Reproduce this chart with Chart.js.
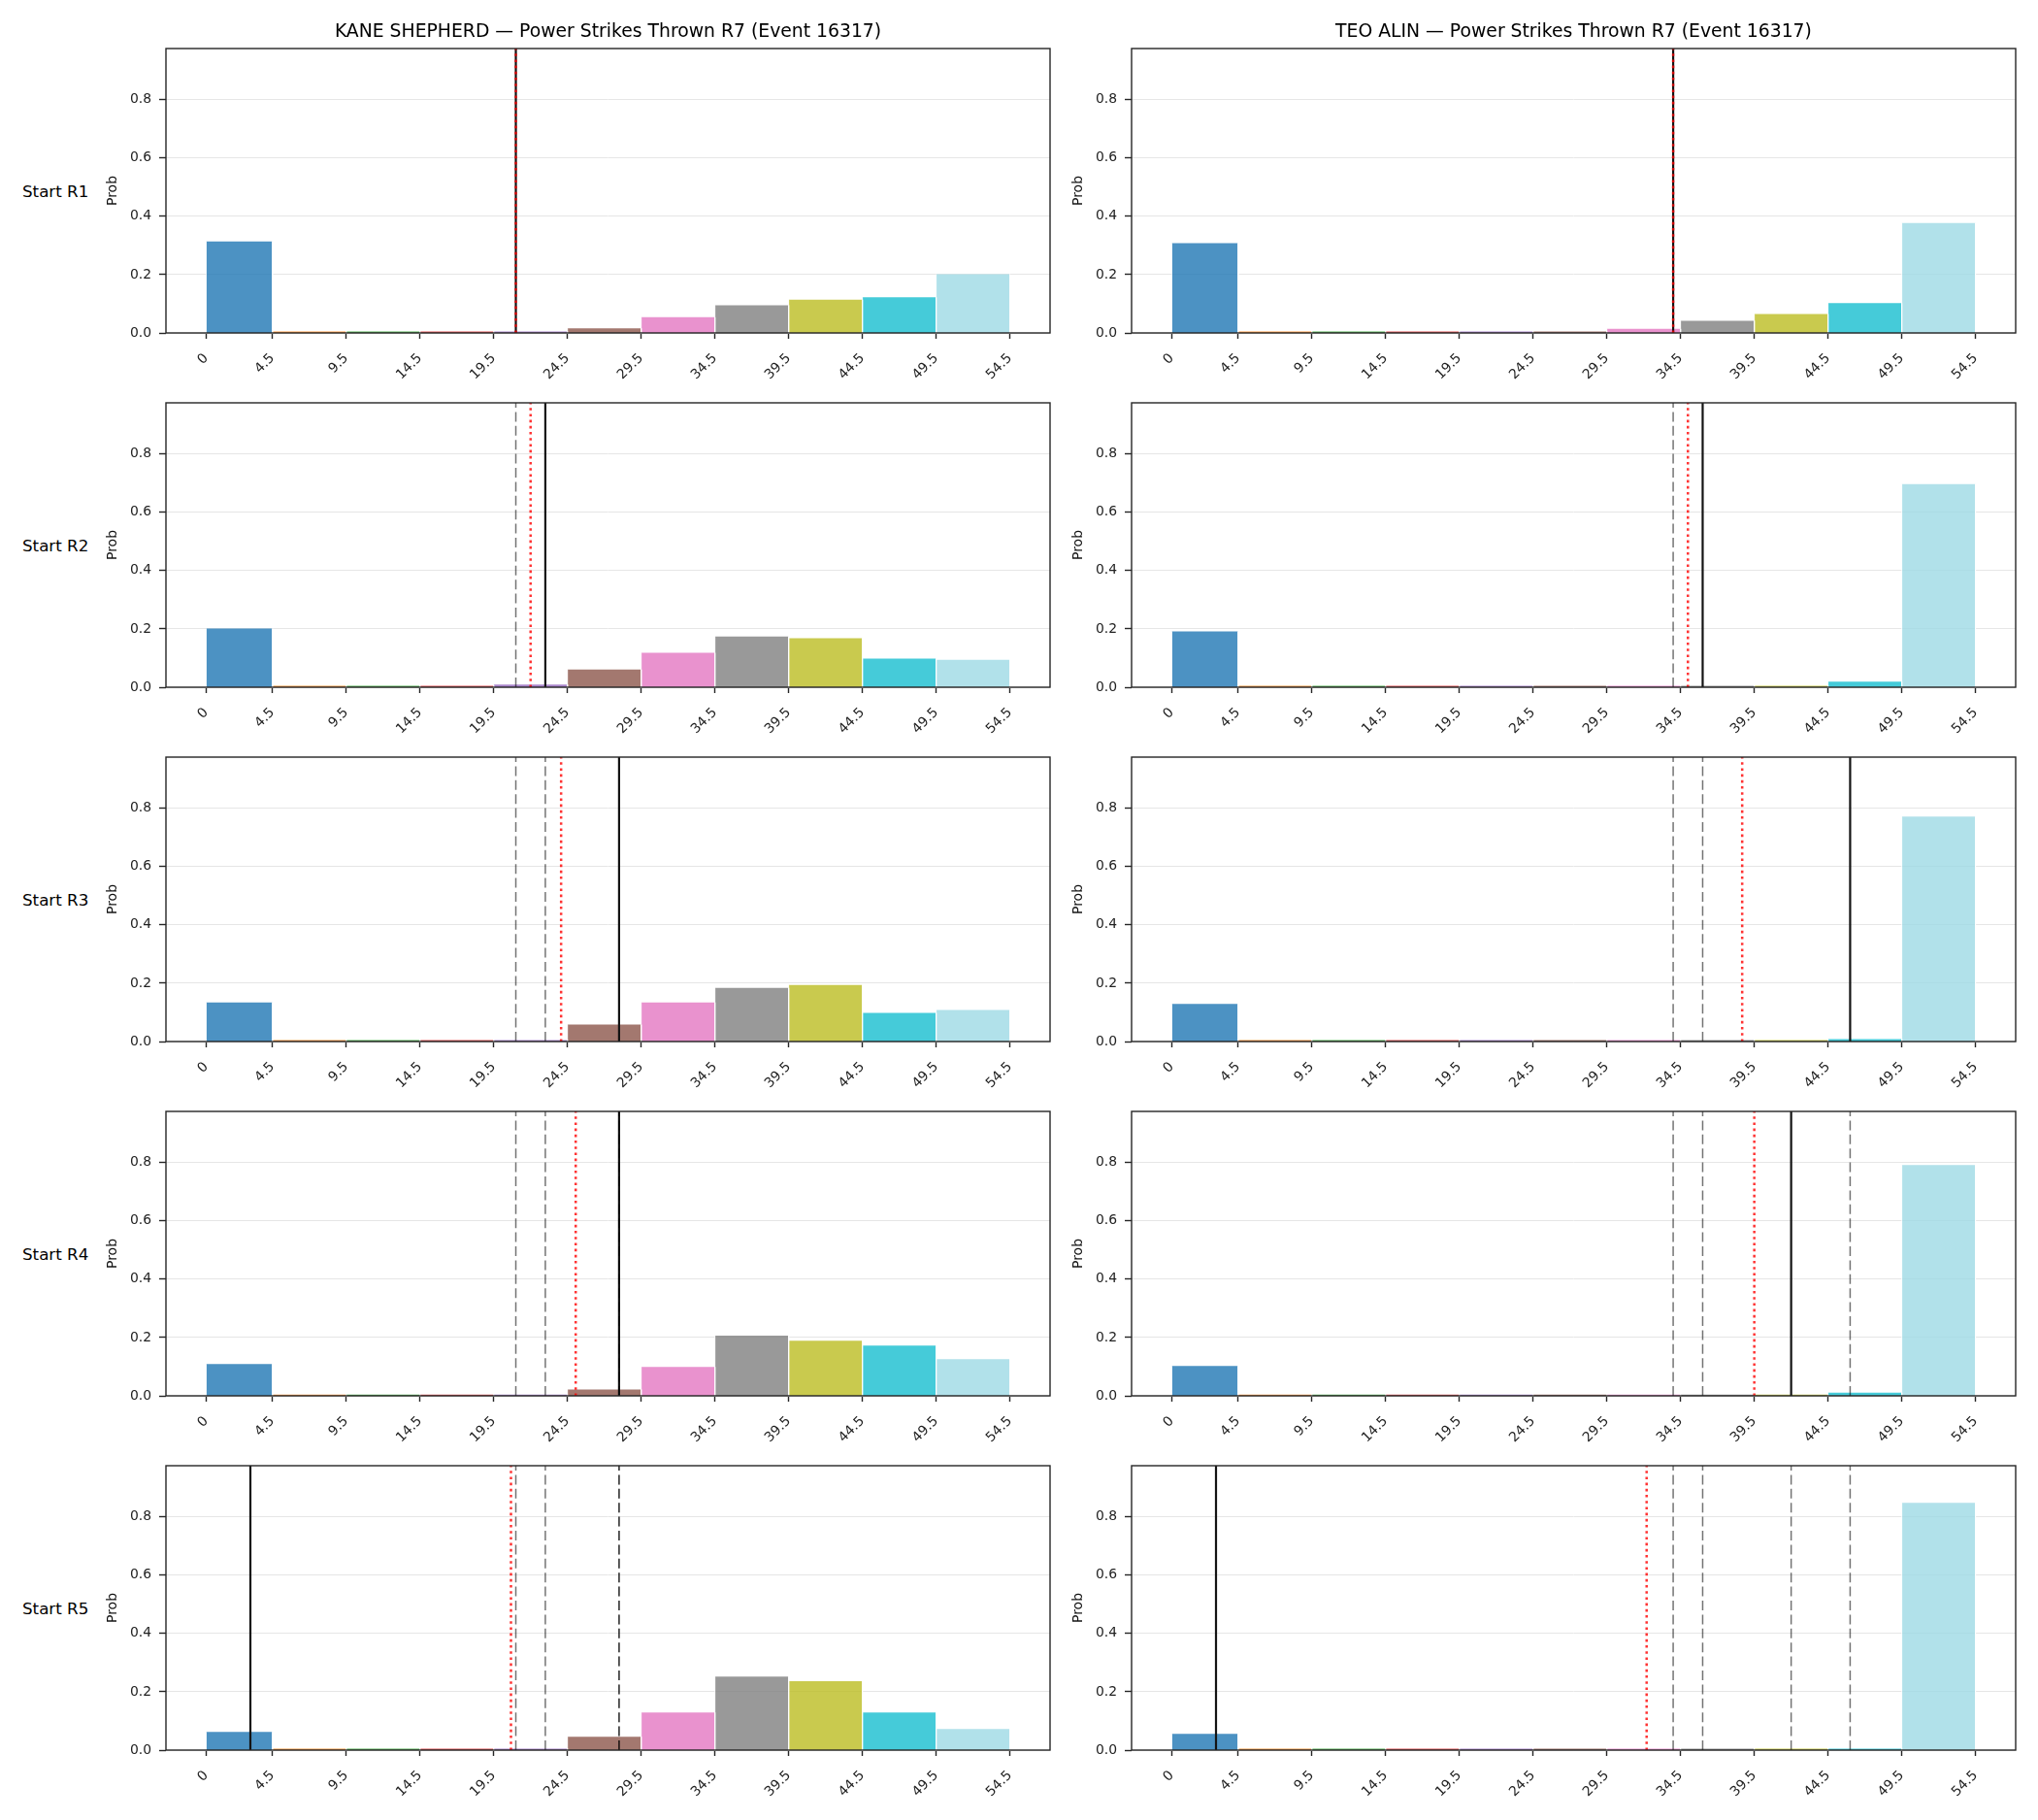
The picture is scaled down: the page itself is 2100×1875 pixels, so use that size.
<!DOCTYPE html>
<html><head><meta charset="utf-8">
<script src="https://cdn.jsdelivr.net/npm/chart.js@4.4.0/dist/chart.umd.min.js"></script>
<style>
html,body{margin:0;padding:0;background:#fff;}
body{width:2100px;height:1875px;position:relative;overflow:hidden;font-family:'DejaVu Sans',sans-serif;}
.title{position:absolute;font-size:18.8px;color:#000;white-space:nowrap;transform:translate(-50%,-50%);}
.rowlab{position:absolute;font-size:16.7px;color:#000;white-space:nowrap;transform:translateY(-50%);}
canvas{position:absolute;}
</style></head><body>
<script>
// ---------------- DATA ----------------
const binEdges = [0, 4.5, 9.5, 14.5, 19.5, 24.5, 29.5, 34.5, 39.5, 44.5, 49.5, 54.5];
const xTickValues = [0, 4.5, 9.5, 14.5, 19.5, 24.5, 29.5, 34.5, 39.5, 44.5, 49.5, 54.5];
const xTickLabels = ['0', '4.5', '9.5', '14.5', '19.5', '24.5', '29.5', '34.5', '39.5', '44.5', '49.5', '54.5'];
const yTickValues = [0, 0.2, 0.4, 0.6, 0.8];
const yTickLabels = ['0.0', '0.2', '0.4', '0.6', '0.8'];
const rowLabels = ['Start R1', 'Start R2', 'Start R3', 'Start R4', 'Start R5'];
const panelTitles = ['KANE SHEPHERD \u2014 Power Strikes Thrown R7 (Event 16317)', 'TEO ALIN \u2014 Power Strikes Thrown R7 (Event 16317)'];

// probability per bin, one array per start round
const kaneR1 = [0.314, 0.005, 0.005, 0.005, 0.005, 0.016, 0.054, 0.095, 0.114, 0.122, 0.201];
const kaneR2 = [0.201, 0.005, 0.005, 0.005, 0.009, 0.061, 0.118, 0.174, 0.168, 0.098, 0.094];
const kaneR3 = [0.134, 0.005, 0.005, 0.005, 0.005, 0.058, 0.134, 0.184, 0.194, 0.098, 0.108];
const kaneR4 = [0.109, 0.004, 0.004, 0.004, 0.004, 0.022, 0.099, 0.206, 0.189, 0.172, 0.126];
const kaneR5 = [0.062, 0.005, 0.005, 0.005, 0.005, 0.046, 0.129, 0.252, 0.236, 0.129, 0.072];
const teoR1 = [0.308, 0.005, 0.005, 0.005, 0.005, 0.005, 0.014, 0.042, 0.065, 0.102, 0.377];
const teoR2 = [0.191, 0.005, 0.005, 0.005, 0.005, 0.005, 0.005, 0.005, 0.005, 0.019, 0.696];
const teoR3 = [0.129, 0.005, 0.005, 0.005, 0.005, 0.005, 0.005, 0.005, 0.005, 0.008, 0.771];
const teoR4 = [0.102, 0.004, 0.004, 0.004, 0.004, 0.004, 0.004, 0.004, 0.004, 0.011, 0.791];
const teoR5 = [0.056, 0.005, 0.005, 0.005, 0.005, 0.005, 0.005, 0.005, 0.005, 0.005, 0.848];

// reference lines
const kaneSolid = [21, 23, 28, 28, 3];
const kaneDotted = [21, 22, 24.07, 25.06, 20.67];
const kaneDashed = [[], [21], [21, 23], [21, 23, 28], [21, 23, 28, 28]];
const teoSolid = [34, 36, 46, 42, 3];
const teoDotted = [34, 35, 38.68, 39.5, 32.2];
const teoDashed = [[], [34], [34, 36], [34, 36, 46], [34, 36, 46, 42]];

const binColors = ['#1f77b4', '#ff7f0e', '#2ca02c', '#d62728', '#9467bd', '#8c564b', '#e377c2', '#7f7f7f', '#bcbd22', '#17becf', '#9edae5'];

const xMin = -2.725, xMax = 57.225, yMax = 0.975;

// ---------------- LAYOUT ----------------
const colLeft = [171, 1166];
const plotW = 911;
const rowTop = [50, 415, 780, 1145, 1510];
const plotH = 293;
const PADL = 71, PADT = 15, PADR = 10, PADB = 62;
const SPINE = '#262626';
const SPINE_W = 1.4;

Chart.defaults.font.family = "'DejaVu Sans', sans-serif";
Chart.defaults.color = '#222';

function rgba(hex, a) {
  const n = parseInt(hex.slice(1), 16);
  return `rgba(${(n >> 16) & 255},${(n >> 8) & 255},${n & 255},${a})`;
}

const framePlugin = {
  id: 'frame',
  afterDatasetsDraw(chart) {
    const {ctx, chartArea: a} = chart;
    ctx.save();
    ctx.strokeStyle = SPINE;
    ctx.lineWidth = SPINE_W;
    ctx.strokeRect(a.left, a.top, a.right - a.left, a.bottom - a.top);
    ctx.restore();
  }
};

function makePanel(col, row, probs, solid, dotted, dashed) {
  const c = document.createElement('canvas');
  const W = plotW + PADL + PADR, H = plotH + PADT + PADB;
  c.width = W; c.height = H;
  c.style.left = (colLeft[col] - PADL) + 'px';
  c.style.top = (rowTop[row] - PADT) + 'px';
  c.style.width = W + 'px'; c.style.height = H + 'px';
  document.body.appendChild(c);

  const datasets = [];
  probs.forEach((v, i) => {
    const lo = binEdges[i], hi = binEdges[i + 1];
    datasets.push({
      data: [{x: lo, y: 0}, {x: lo, y: v}, {x: hi, y: v}, {x: hi, y: 0}],
      backgroundColor: rgba(binColors[i], 0.8),
      borderColor: '#ffffff', borderWidth: 0.8,
      segment: {borderColor: ctx => ctx.p0DataIndex === 1 ? 'rgba(255,255,255,0)' : '#ffffff'},
      fill: 'origin', pointRadius: 0, tension: 0, order: 20
    });
  });
  const vline = (x, color, width, dash, order) => ({
    data: [{x: x, y: 0}, {x: x, y: yMax}],
    borderColor: color, borderWidth: width, borderDash: dash,
    fill: false, pointRadius: 0, order: order
  });
  datasets.push(vline(solid, '#141414', 2.2, [], 3));
  dashed.forEach(x => datasets.push(vline(x, 'rgba(0,0,0,0.55)', 1.5, [10, 4.4], 2)));
  datasets.push(vline(dotted, 'rgba(255,0,0,0.8)', 2.5, [2.6, 3.6], 1));

  new Chart(c, {
    type: 'line',
    data: {datasets},
    plugins: [framePlugin],
    options: {
      animation: false, responsive: false, devicePixelRatio: 1,
      layout: {padding: {top: PADT, right: PADR, left: 0, bottom: 0}},
      plugins: {legend: {display: false}, tooltip: {enabled: false}, title: {display: false}},
      scales: {
        x: {
          type: 'linear', min: xMin, max: xMax,
          afterBuildTicks: s => { s.ticks = xTickValues.map(v => ({value: v})); },
          ticks: {autoSkip: false, minRotation: 45, maxRotation: 45, padding: 12,
                  font: {size: 13.9}, color: '#222',
                  callback: (v, i) => xTickLabels[i]},
          grid: {drawOnChartArea: false, drawTicks: true, tickLength: 6, tickColor: SPINE, tickWidth: SPINE_W},
          border: {display: false},
          afterFit: s => { s.height = PADB; s.paddingLeft = 0; s.paddingRight = 0; }
        },
        y: {
          min: 0, max: yMax,
          afterBuildTicks: s => { s.ticks = yTickValues.map(v => ({value: v})); },
          ticks: {padding: 8, font: {size: 13.9}, color: '#222',
                  callback: (v, i) => yTickLabels[i]},
          grid: {color: '#e6e6e6', lineWidth: 1, drawTicks: true, tickLength: 7, tickColor: SPINE, tickWidth: SPINE_W},
          border: {display: false},
          title: {display: true, text: 'Prob', font: {size: 14}, color: '#111', padding: {top: 8, bottom: 0}},
          afterFit: s => { s.width = PADL; s.paddingTop = 0; s.paddingBottom = 0; }
        }
      }
    }
  });
}

const kaneRows = [kaneR1, kaneR2, kaneR3, kaneR4, kaneR5];
const teoRows = [teoR1, teoR2, teoR3, teoR4, teoR5];

for (let r = 0; r < 5; r++) {
  makePanel(0, r, kaneRows[r], kaneSolid[r], kaneDotted[r], kaneDashed[r]);
  makePanel(1, r, teoRows[r], teoSolid[r], teoDotted[r], teoDashed[r]);
  const lab = document.createElement('div');
  lab.className = 'rowlab';
  lab.textContent = rowLabels[r];
  lab.style.left = '23px';
  lab.style.top = (rowTop[r] + plotH / 2) + 'px';
  document.body.appendChild(lab);
}
panelTitles.forEach((t, i) => {
  const d = document.createElement('div');
  d.className = 'title';
  d.textContent = t;
  d.style.left = (colLeft[i] + plotW / 2) + 'px';
  d.style.top = '31px';
  document.body.appendChild(d);
});
</script>
</body></html>
